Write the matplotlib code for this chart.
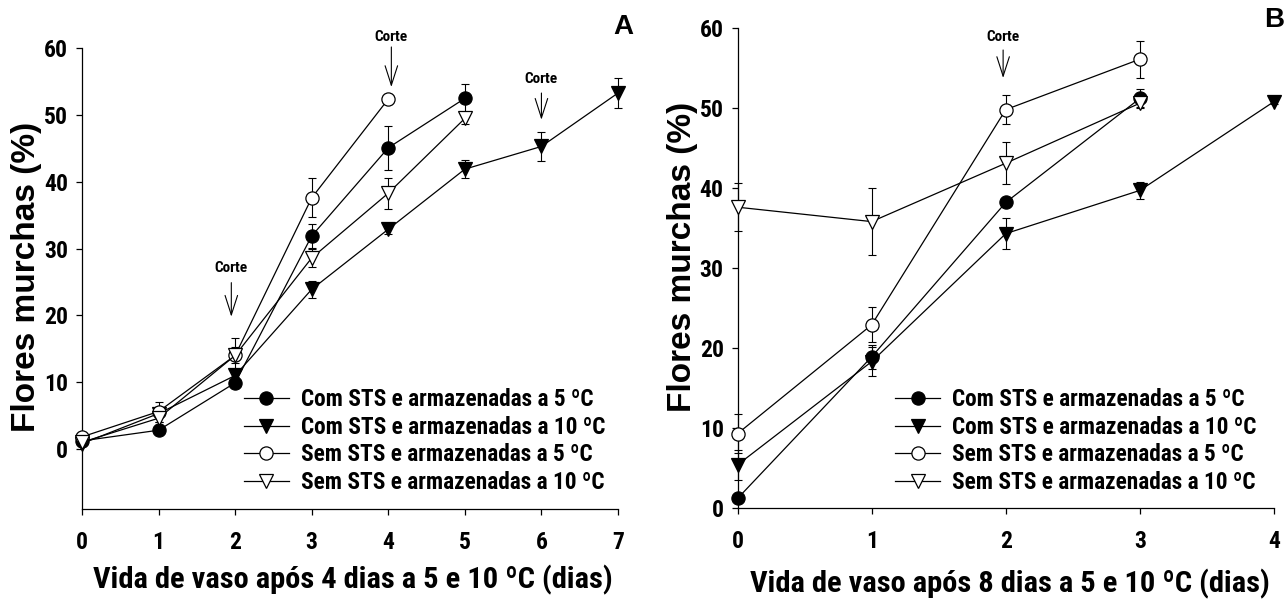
import matplotlib
matplotlib.use("Agg")
import matplotlib.pyplot as plt
from matplotlib import font_manager
from matplotlib.font_manager import FontProperties
from matplotlib.lines import Line2D

# ---------------- data ----------------
series_labels = [
    "Com STS e armazenadas a 5 ºC",
    "Com STS e armazenadas a 10 ºC",
    "Sem STS e armazenadas a 5 ºC",
    "Sem STS e armazenadas a 10 ºC",
]

# Panel A: vase life after 4 days of storage
a_com5_x = [0, 1, 2, 3, 4, 5]
a_com5_y = [1.2, 2.8, 9.9, 31.9, 45.1, 52.5]
a_com5_e = [0.3, 0.5, 0.8, 1.8, 3.3, 2.2]

a_com10_x = [0, 1, 2, 3, 4, 5, 6, 7]
a_com10_y = [0.8, 5.3, 11.0, 23.9, 32.9, 41.9, 45.3, 53.3]
a_com10_e = [0.3, 0.5, 0.8, 1.3, 0.7, 1.4, 2.2, 2.3]

a_sem5_x = [0, 1, 2, 3, 4]
a_sem5_y = [1.8, 5.6, 14.0, 37.6, 52.4]
a_sem5_e = [0.3, 1.5, 1.2, 2.9, 0.5]

a_sem10_x = [0, 1, 2, 3, 4, 5]
a_sem10_y = [1.0, 4.6, 14.0, 28.6, 38.3, 49.5]
a_sem10_e = [0.3, 0.6, 2.6, 1.4, 2.3, 0.8]

# Panel B: vase life after 8 days of storage
b_com5_x = [0, 1, 2, 3]
b_com5_y = [1.2, 18.9, 38.2, 51.2]
b_com5_e = [0.3, 1.5, 0.5, 1.2]

b_com10_x = [0, 1, 2, 3, 4]
b_com10_y = [5.4, 18.3, 34.3, 39.7, 50.8]
b_com10_e = [1.9, 1.8, 1.9, 1.1, 0.3]

b_sem5_x = [0, 1, 2, 3]
b_sem5_y = [9.3, 22.9, 49.8, 56.1]
b_sem5_e = [2.4, 2.2, 1.8, 2.3]

b_sem10_x = [0, 1, 2, 3]
b_sem10_y = [37.6, 35.8, 43.1, 50.6]
b_sem10_e = [3.0, 4.2, 2.6, 0.5]

# "Corte" annotations: (x, text y, arrow start y, arrow tip y)
a_cortes = [(1.95, 27.1, 24.9, 19.8), (4.04, 61.7, 60.2, 54.2), (6.0, 55.4, 53.3, 49.3)]
b_cortes = [(1.98, 58.9, 57.25, 53.75)]

a_xticks = [0, 1, 2, 3, 4, 5, 6, 7]
b_xticks = [0, 1, 2, 3, 4]
yticks = [0, 10, 20, 30, 40, 50, 60]

# ---------------- fonts ----------------
def _weight(e):
    w = e.weight
    if isinstance(w, str):
        return font_manager.weight_dict.get(w, 400)
    return int(w)


def pick_condensed_bold():
    entries = [e for e in font_manager.fontManager.ttflist
               if e.style == "normal" and _weight(e) >= 600]
    prefs = ["Liberation Sans Narrow", "Arial Narrow", "Roboto Condensed",
             "Open Sans Condensed", "Noto Sans Condensed", "DejaVu Sans Condensed"]
    for p in prefs:
        c = [e for e in entries if e.name == p]
        if c:
            c.sort(key=lambda e: abs(_weight(e) - 700))
            return c[0].fname, True
    c = [e for e in entries
         if e.stretch in ("condensed", "semi-condensed", "extra-condensed")
         or "condensed" in e.fname.lower() or "narrow" in e.fname.lower()]
    if c:
        c.sort(key=lambda e: (abs(_weight(e) - 700),
                              0 if "sans" in e.name.lower() else 1))
        return c[0].fname, True
    return None, False


narrow_path, HAS_NARROW = pick_condensed_bold()


def narrow(size):
    if narrow_path:
        return FontProperties(fname=narrow_path, size=size)
    return FontProperties(family="Liberation Sans", weight="bold", size=size)


def wide(size):
    return FontProperties(family="Liberation Sans", weight="bold", size=size)


W, H = 1284, 601
fig = plt.figure(figsize=(W / 100, H / 100), dpi=100)
renderer = fig.canvas.get_renderer()


def fit_size(text, target_px, size_max):
    """Largest narrow-font size (<= size_max) whose text fits target_px."""
    w, _, _ = renderer.get_text_width_height_descent(text, narrow(10), ismath=False)
    return min(size_max, 10 * target_px / w)


def fx(px):
    return px / W


def fy(py):
    return 1 - py / H


XLABEL_SIZE = fit_size("Vida de vaso após 4 dias a 5 e 10 ºC (dias)", 522, 23)
LEGEND_SIZE = fit_size(series_labels[0], 293, 17.5)
TICK_SIZE = fit_size("60", 24, 17)
CORTE_SIZE = fit_size("Corte", 34, 11)

styles = [
    dict(marker="o", mfc="black"),
    dict(marker="v", mfc="black"),
    dict(marker="o", mfc="white"),
    dict(marker="v", mfc="white"),
]
MS = 9.5


def draw_panel(ax, data, xticks, ylim, cortes, letter, letter_xy, xlabel,
               ylabel_xy, xlabel_xy, legend_xy):
    for (x, y, e), st, lab in zip(data, styles, series_labels):
        eb = ax.errorbar(x, y, yerr=e, fmt="none", ecolor="black",
                         elinewidth=0.8, capsize=3.2, capthick=0.8, zorder=2)
        for art in eb.get_children():
            art.set_clip_on(False)
        ax.plot(x, y, color="black", lw=0.9, marker=st["marker"], ms=MS,
                mfc=st["mfc"], mec="black", mew=0.9, clip_on=False,
                zorder=3, label=lab)

    ax.set_xlim(xticks[0], xticks[-1])
    ax.set_ylim(*ylim)
    ax.set_xticks(xticks)
    ax.set_yticks(yticks)
    for s in ("top", "right"):
        ax.spines[s].set_visible(False)
    for s in ("left", "bottom"):
        ax.spines[s].set_linewidth(0.9)
    ax.tick_params(axis="both", direction="out", length=4, width=0.9)
    ax.tick_params(axis="x", pad=12)
    ax.tick_params(axis="y", pad=6)
    for lbl in ax.get_xticklabels() + ax.get_yticklabels():
        lbl.set_fontproperties(narrow(TICK_SIZE))

    ax.set_ylabel("Flores murchas (%)", fontproperties=wide(24),
                  va="center", ha="center")
    ax.yaxis.set_label_coords(fx(ylabel_xy[0]), fy(ylabel_xy[1]),
                              transform=fig.transFigure)
    ax.set_xlabel(xlabel, fontproperties=narrow(XLABEL_SIZE),
                  va="center", ha="center")
    ax.xaxis.set_label_coords(fx(xlabel_xy[0]), fy(xlabel_xy[1]),
                              transform=fig.transFigure)

    for cx, ty, y0, y1 in cortes:
        ax.text(cx, ty, "Corte", fontproperties=narrow(CORTE_SIZE),
                ha="center", va="center", clip_on=False)
        ax.annotate("", xy=(cx, y1), xytext=(cx, y0),
                    arrowprops=dict(arrowstyle="->,head_length=1.4,head_width=0.45",
                                    lw=0.8, color="black", mutation_scale=10,
                                    shrinkA=0, shrinkB=0),
                    annotation_clip=False)

    fig.text(fx(letter_xy[0]), fy(letter_xy[1]), letter, fontproperties=wide(20),
             ha="center", va="center")

    handles = [Line2D([], [], color="black", lw=0.9, marker=st["marker"], ms=MS,
                      mfc=st["mfc"], mec="black", mew=0.9) for st in styles]
    leg_prop = narrow(LEGEND_SIZE)
    ax.legend(handles, series_labels, loc="upper left",
              bbox_to_anchor=(fx(legend_xy[0]), fy(legend_xy[1])),
              bbox_transform=fig.transFigure, frameon=False, borderpad=0,
              borderaxespad=0, handlelength=45 / (LEGEND_SIZE * 100 / 72),
              handletextpad=12 / (LEGEND_SIZE * 100 / 72),
              labelspacing=0.2, prop=leg_prop)


ax_a = fig.add_axes([fx(82), fy(509), fx(618 - 82), (509 - 48.3) / H])
draw_panel(
    ax_a,
    [(a_com5_x, a_com5_y, a_com5_e), (a_com10_x, a_com10_y, a_com10_e),
     (a_sem5_x, a_sem5_y, a_sem5_e), (a_sem10_x, a_sem10_y, a_sem10_e)],
    a_xticks, (-9, 60), a_cortes, "A", (623, 27),
    "Vida de vaso após 4 dias a 5 e 10 ºC (dias)",
    (27, 277), (353, 580), (243.6, 388),
)

ax_b = fig.add_axes([fx(737.6), fy(508), fx(1274 - 737.6), (508 - 28) / H])
draw_panel(
    ax_b,
    [(b_com5_x, b_com5_y, b_com5_e), (b_com10_x, b_com10_y, b_com10_e),
     (b_sem5_x, b_sem5_y, b_sem5_e), (b_sem10_x, b_sem10_y, b_sem10_e)],
    b_xticks, (0, 60), b_cortes, "B", (1274, 20),
    "Vida de vaso após 8 dias a 5 e 10 ºC (dias)",
    (683, 257), (1010, 584), (895, 388),
)

fig.savefig("out.png", dpi=100, facecolor="white")
